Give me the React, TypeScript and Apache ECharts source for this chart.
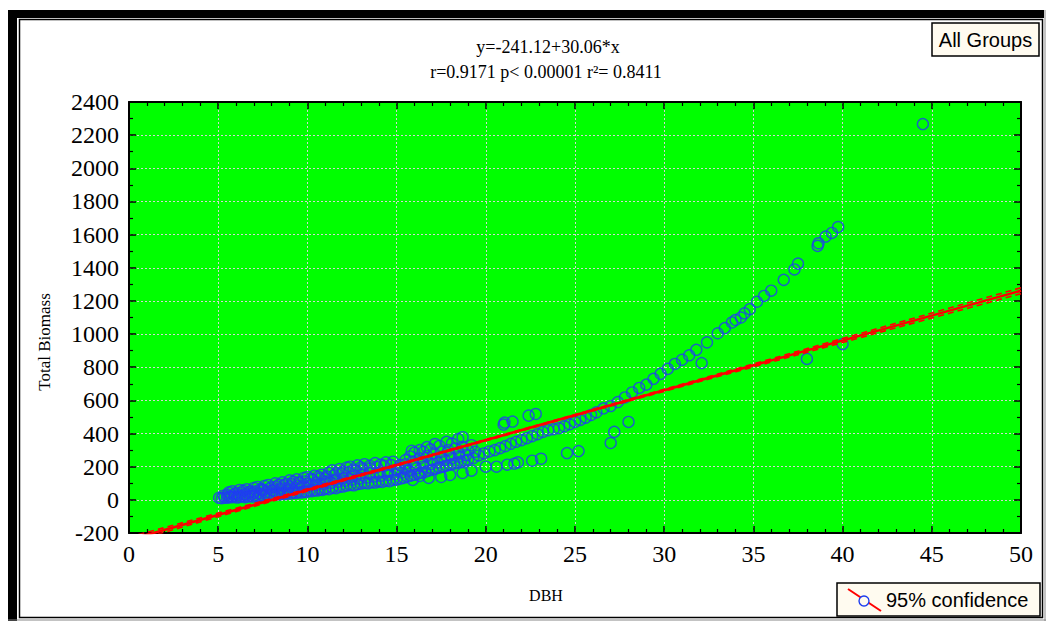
import React, { useEffect, useRef } from "react";
import * as echarts from "echarts";

// Regression shown in the chart header
const fitIntercept = -241.12;
const fitSlope = 30.06;
const fitX = [0, 50];

// Axis ranges
const xRange = [0, 50];
const yRange = [-200, 2400];

// Main allometric curve (DBH, Total Biomass)
const mainCurve: [number, number][] = [
  [5.05, 12], [5.2, 10], [5.35, 14], [5.5, 12], [5.6, 18], [5.75, 15], [5.9, 20], [6.05, 14],
  [6.2, 18], [6.35, 22], [6.5, 16], [6.65, 20], [6.8, 24], [6.95, 19], [7.1, 26], [7.25, 22],
  [7.4, 28], [7.55, 25], [7.7, 30], [7.85, 27], [8.0, 33], [8.15, 30], [8.3, 36], [8.45, 33],
  [8.6, 38], [8.75, 35], [8.9, 42], [9.05, 38], [9.2, 44], [9.35, 41], [9.5, 47], [9.65, 44],
  [9.8, 50], [9.95, 47], [10.1, 55], [10.25, 52], [10.4, 58], [10.55, 56], [10.7, 62], [10.85, 60],
  [11.0, 66], [11.2, 64], [11.4, 72], [11.6, 70], [11.8, 78], [12.0, 80], [12.2, 86], [12.4, 90],
  [12.6, 88], [12.8, 95], [13.0, 98], [13.2, 102], [13.4, 100], [13.6, 106], [13.8, 104], [14.0, 110],
  [14.2, 108], [14.4, 115], [14.6, 113], [14.8, 120], [15.0, 122], [15.2, 128], [15.4, 132], [15.6, 140],
  [15.8, 146], [16.0, 152], [16.2, 158], [16.4, 164], [16.6, 168], [16.8, 176], [17.0, 182], [17.2, 188],
  [17.4, 194], [17.6, 200], [17.8, 206], [18.0, 212], [18.2, 218], [18.4, 224], [18.6, 230], [18.8, 236],
  [19.0, 242], [19.3, 252], [19.6, 268], [19.9, 280], [20.2, 292], [20.5, 300], [20.8, 312], [21.1, 324],
  [21.4, 338], [21.7, 350], [22.0, 360], [22.3, 372], [22.6, 384], [22.9, 396], [23.2, 410], [23.5, 420],
  [23.8, 426], [24.1, 432], [24.4, 444], [24.7, 456], [25.0, 470], [25.3, 482], [25.6, 496], [25.9, 512],
  [26.2, 528], [26.6, 552], [27.0, 566], [27.4, 590], [27.8, 618], [28.2, 648], [28.6, 675], [29.0, 695],
  [29.4, 730], [29.8, 760], [30.2, 790], [30.6, 820], [31.0, 845], [31.4, 872], [31.8, 905], [32.4, 950],
  [33.0, 1005], [33.4, 1036], [33.8, 1070], [34.0, 1085], [34.3, 1100], [34.5, 1125], [34.8, 1150], [35.2, 1195],
  [35.6, 1230], [36.0, 1262], [36.7, 1327], [37.3, 1390], [37.5, 1425], [38.6, 1532], [38.65, 1548], [39.05, 1588],
  [39.4, 1610], [39.75, 1646], [44.5, 2267],
];

// Upper branch of small trees
const upperBranch: [number, number][] = [
  [5.6, 45], [5.8, 52], [6.0, 40], [6.2, 60], [6.4, 55], [6.6, 64], [6.8, 50], [7.0, 72],
  [7.2, 78], [7.4, 66], [7.6, 84], [7.8, 90], [8.0, 76], [8.2, 100], [8.4, 92], [8.6, 106],
  [8.8, 96], [9.0, 118], [9.2, 110], [9.4, 124], [9.6, 104], [9.8, 132], [10.0, 138], [10.2, 126],
  [10.4, 146], [10.6, 140], [10.8, 152], [11.0, 130], [11.2, 164], [11.4, 178], [11.6, 160], [11.8, 186],
  [12.0, 170], [12.2, 195], [12.4, 200], [12.6, 182], [12.8, 208], [13.0, 196], [13.2, 215], [13.5, 205],
  [13.8, 222], [14.1, 212], [14.4, 226], [14.8, 230], [15.2, 210], [15.5, 240], [15.75, 262], [15.85, 296],
  [16.0, 285], [16.3, 300], [16.5, 290], [16.7, 318], [16.9, 305], [17.15, 337], [17.4, 325], [17.8, 350],
  [18.1, 340], [18.45, 367], [18.7, 378],
];

// Points filling the band between branches
const bandFill: [number, number][] = [
  [6.5, 35], [7.0, 45], [7.5, 55], [8.0, 58], [8.5, 70], [9.0, 80], [9.5, 85], [10.0, 95],
  [10.5, 105], [11.0, 110], [11.5, 120], [12.0, 130], [12.5, 140], [13.0, 150], [13.5, 160], [14.0, 165],
  [14.5, 170], [15.0, 180], [15.5, 190], [16.0, 205], [16.5, 220], [17.0, 240], [17.5, 255], [18.0, 270],
  [18.5, 280], [19.0, 300],
];

// Dense middle of the small-tree cloud
const denseCloud: [number, number][] = [
  [5.3, 25], [5.5, 30], [5.7, 22], [5.9, 35], [6.1, 28], [6.3, 42], [6.5, 30], [6.7, 45],
  [6.9, 36], [7.1, 52], [7.3, 40], [7.5, 62], [7.7, 48], [7.9, 70], [8.1, 55], [8.3, 80],
  [8.5, 60], [8.7, 88], [8.9, 66], [9.1, 95], [9.3, 72], [9.5, 105], [9.7, 78], [9.9, 112],
  [10.1, 84], [10.3, 120], [10.5, 90], [10.7, 128], [10.9, 96], [11.1, 140], [11.3, 102], [11.5, 148],
  [11.7, 108], [11.9, 160], [12.1, 115], [12.3, 168], [12.5, 122], [12.7, 175], [12.9, 128], [13.1, 185],
  [13.3, 134], [13.5, 190], [13.7, 140], [13.9, 198], [14.1, 145], [14.3, 205], [14.5, 150], [14.7, 210],
  [14.9, 155], [15.1, 190], [15.3, 165], [15.5, 215], [15.7, 175], [15.9, 230], [16.1, 190], [16.3, 250],
  [16.5, 200], [16.7, 265], [16.9, 215], [17.1, 280], [17.3, 225], [17.5, 290], [17.7, 240], [17.9, 300],
  [18.1, 250], [18.3, 310], [18.5, 260], [18.7, 320], [18.9, 270], [19.2, 330], [19.4, 290],
];

// Lower branch and low outliers
const lowerBranch: [number, number][] = [
  [15.9, 120], [16.3, 144], [16.8, 132], [17.5, 138], [18.0, 150], [18.7, 162], [19.2, 176], [20.0, 200],
  [20.6, 200], [21.2, 212], [21.6, 218], [21.8, 226], [22.6, 236], [23.1, 248], [24.55, 282], [25.2, 294],
  [27.0, 343], [27.2, 410], [28.0, 470], [32.1, 825], [38.0, 850], [40.0, 940],
];

// High outliers
const highOutliers: [number, number][] = [
  [21.0, 454], [21.05, 466], [21.5, 472], [22.4, 508], [22.8, 518],
];

// 95% confidence band half-widths (Total Biomass units)
const ciX = [0, 5, 10, 15, 20, 25, 30, 35, 40, 45, 50];
const ciHalfWidth = [16, 11, 7, 5, 4, 4, 6, 9, 12, 15, 18];

const SERIF = "'Liberation Serif', 'Times New Roman', serif";
const SANS = "'Liberation Sans', Arial, sans-serif";

export default function App() {
  const ref = useRef<HTMLDivElement>(null);

  useEffect(() => {
    if (!ref.current) return;
    const chart = echarts.init(ref.current, undefined, { renderer: "svg" });

    const fitLine = fitX.map((x) => [x, fitIntercept + fitSlope * x]);
    const ciUpper = ciX.map((x, i) => [x, fitIntercept + fitSlope * x + ciHalfWidth[i]]);
    const ciLower = ciX.map((x, i) => [x, fitIntercept + fitSlope * x - ciHalfWidth[i]]);
    const points = [
      ...mainCurve,
      ...upperBranch,
      ...bandFill,
      ...denseCloud,
      ...lowerBranch,
      ...highOutliers,
    ];

    const axisLine = { show: true, onZero: false, lineStyle: { color: "#000", width: 2 } };
    const tick = { show: true, inside: true, length: 7, lineStyle: { color: "#000", width: 1.5 } };
    const split = { show: true, lineStyle: { color: "#d4d4d4", type: [2, 2], width: 1 } };
    const plain = (v: number) => String(v);

    const baseX = {
      type: "value" as const,
      min: xRange[0],
      max: xRange[1],
      interval: 5,
      axisLine,
      axisTick: tick,
      minorTick: { show: true, splitNumber: 5, length: 4, lineStyle: { color: "#000", width: 1.2 } },
    };
    const baseY = {
      type: "value" as const,
      min: yRange[0],
      max: yRange[1],
      interval: 200,
      axisLine,
      axisTick: tick,
      minorTick: { show: true, splitNumber: 2, length: 4, lineStyle: { color: "#000", width: 1.2 } },
    };

    chart.setOption({
      animation: false,
      backgroundColor: "#fff",
      grid: {
        left: 129,
        right: 25,
        top: 102,
        bottom: 88,
        show: true,
        backgroundColor: "#00ff00",
        borderWidth: 0,
      },
      xAxis: [
        {
          ...baseX,
          position: "bottom",
          splitLine: split,
          axisLabel: { color: "#000", fontFamily: SERIF, fontSize: 24, margin: 9, formatter: plain },
        },
        {
          ...baseX,
          position: "top",
          splitLine: { show: false },
          axisLabel: { show: false },
        },
      ],
      yAxis: [
        {
          ...baseY,
          position: "left",
          splitLine: split,
          axisLabel: { color: "#000", fontFamily: SERIF, fontSize: 24, margin: 10, formatter: plain },
        },
        {
          ...baseY,
          position: "right",
          splitLine: { show: false },
          axisLabel: { show: false },
        },
      ],
      series: [
        {
          type: "scatter",
          data: points,
          symbol: "circle",
          symbolSize: 11,
          itemStyle: { color: "rgba(0,0,0,0)", borderColor: "#1f3ff0", borderWidth: 1.4 },
          z: 2,
        },
        {
          type: "line",
          data: ciUpper,
          showSymbol: false,
          symbol: "none",
          smooth: true,
          clip: true,
          lineStyle: { color: "#ff0000", width: 1.6, type: [6, 4] },
          z: 3,
        },
        {
          type: "line",
          data: ciLower,
          showSymbol: false,
          symbol: "none",
          smooth: true,
          clip: true,
          lineStyle: { color: "#ff0000", width: 1.6, type: [6, 4] },
          z: 3,
        },
        {
          type: "line",
          data: fitLine,
          showSymbol: false,
          symbol: "none",
          clip: true,
          lineStyle: { color: "#ff0000", width: 2.6 },
          z: 4,
        },
      ],
      graphic: [
        // outer frame
        { type: "rect", shape: { x: 8, y: 10, width: 1036, height: 8 }, style: { fill: "#000" }, silent: true },
        { type: "rect", shape: { x: 8, y: 10, width: 9, height: 611 }, style: { fill: "#000" }, silent: true },
        {
          type: "rect",
          shape: { x: 19.5, y: 19.5, width: 1023, height: 598 },
          style: { fill: "none", stroke: "#000", lineWidth: 1.5 },
          silent: true,
        },
        { type: "line", shape: { x1: 1045, y1: 10, x2: 1045, y2: 621 }, style: { stroke: "#888", lineWidth: 1 }, silent: true },
        { type: "line", shape: { x1: 8, y1: 620, x2: 1046, y2: 620 }, style: { stroke: "#888", lineWidth: 1 }, silent: true },
        // header
        {
          type: "text",
          x: 548,
          y: 47,
          style: {
            text: "y=-241.12+30.06*x",
            fill: "#000",
            font: `18px ${SERIF}`,
            textAlign: "center",
            textVerticalAlign: "middle",
          },
        },
        {
          type: "text",
          x: 546,
          y: 72,
          style: {
            text: "r=0.9171 p< 0.00001 r²= 0.8411",
            fill: "#000",
            font: `18px ${SERIF}`,
            textAlign: "center",
            textVerticalAlign: "middle",
          },
        },
        // All Groups box
        {
          type: "rect",
          shape: { x: 932, y: 23, width: 107, height: 33 },
          style: { fill: "#fffbf0", stroke: "#000", lineWidth: 1.5 },
        },
        {
          type: "text",
          x: 985.5,
          y: 40,
          style: {
            text: "All Groups",
            fill: "#000",
            font: `20px ${SANS}`,
            textAlign: "center",
            textVerticalAlign: "middle",
          },
        },
        // legend box
        {
          type: "rect",
          shape: { x: 837, y: 583, width: 203, height: 33 },
          style: { fill: "#fffbf0", stroke: "#000", lineWidth: 1.5 },
        },
        {
          type: "line",
          shape: { x1: 848, y1: 589, x2: 881, y2: 611 },
          style: { stroke: "#ff0000", lineWidth: 2 },
        },
        {
          type: "circle",
          shape: { cx: 864, cy: 601, r: 5 },
          style: { fill: "#fffbf0", stroke: "#1f3ff0", lineWidth: 1.4 },
        },
        {
          type: "text",
          x: 886,
          y: 600,
          style: {
            text: "95% confidence",
            fill: "#000",
            font: `20px ${SANS}`,
            textAlign: "left",
            textVerticalAlign: "middle",
          },
        },
        // axis names
        {
          type: "text",
          x: 546,
          y: 595,
          style: {
            text: "DBH",
            fill: "#000",
            font: `16px ${SERIF}`,
            textAlign: "center",
            textVerticalAlign: "middle",
          },
        },
        {
          type: "text",
          x: 44,
          y: 342,
          rotation: Math.PI / 2,
          style: {
            text: "Total Biomass",
            fill: "#000",
            font: `17px ${SERIF}`,
            textAlign: "center",
            textVerticalAlign: "middle",
          },
        },
      ],
    });

    return () => chart.dispose();
  }, []);

  return (
    <div
      ref={ref}
      style={{ position: "fixed", left: 0, top: 0, width: 1046, height: 621, background: "#fff" }}
    />
  );
}
